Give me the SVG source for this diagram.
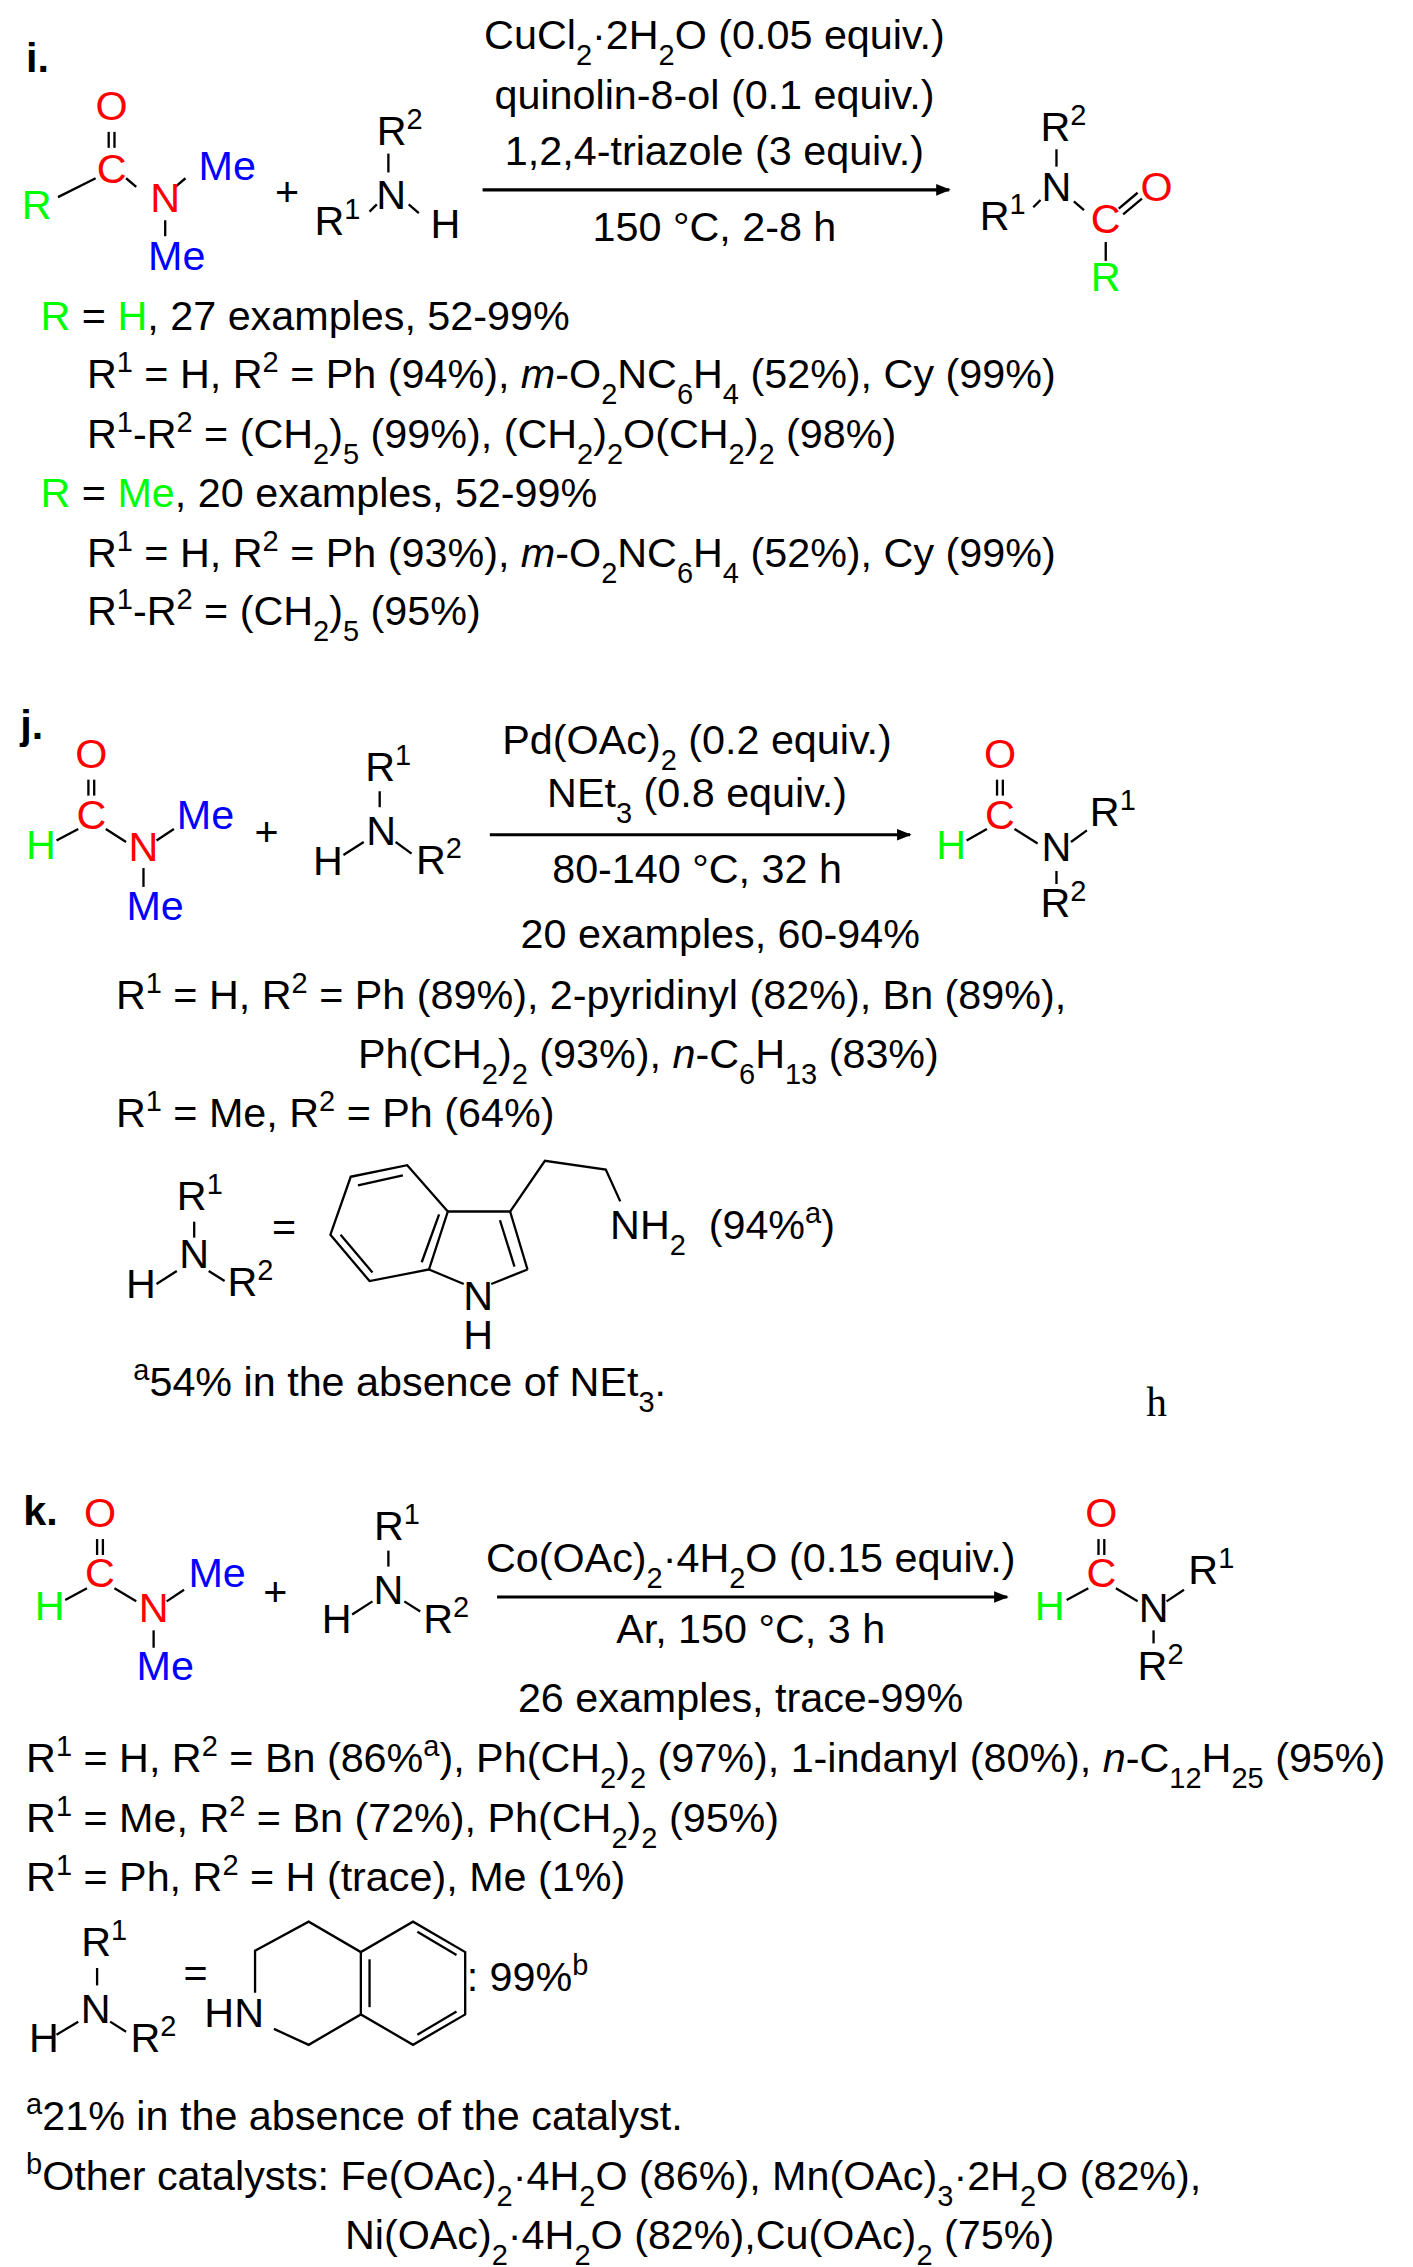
<svg xmlns="http://www.w3.org/2000/svg" width="1413" height="2267" viewBox="0 0 1413 2267">
<style>
text{font-family:"Liberation Sans",Arial,sans-serif;font-size:28.5px;fill:#000}
.c{text-anchor:middle}
.r{fill:#f00}.g{fill:#0f0}.b{fill:#00f}
.bd{font-weight:bold}
.sb{font-size:20px;baseline-shift:sub}
.sp{font-size:20px;baseline-shift:super}
.i{font-style:italic}
line,polyline,path{stroke:#000;stroke-width:1.6;fill:none}
.ar{stroke-width:2.2}
</style>
<defs><marker id="ah" markerWidth="10" markerHeight="8" refX="9" refY="4" orient="auto" markerUnits="userSpaceOnUse"><path d="M0,0 L10,4 L0,8 z" style="fill:#000;stroke:none"/></marker></defs>
<rect width="1413" height="2267" fill="#fff"/>
<g transform="scale(1.4492)">
<g id="connectors">
<line x1="75" y1="91" x2="75" y2="102"/><line x1="79" y1="91" x2="79" y2="102"/>
<line x1="66" y1="123" x2="40" y2="136"/><line x1="87" y1="123" x2="94" y2="129"/><line x1="121" y1="129" x2="128" y2="123"/><line x1="114" y1="152" x2="114" y2="163"/>
<line x1="268" y1="106" x2="268" y2="119"/><line x1="255" y1="146" x2="260" y2="141"/><line x1="282" y1="141" x2="289" y2="147"/>
<line class="ar" x1="333" y1="131" x2="655" y2="131" marker-end="url(#ah)"/>
<line x1="729" y1="103" x2="729" y2="115"/><line x1="713" y1="143" x2="718" y2="138"/><line x1="741" y1="139" x2="748" y2="145"/><line x1="772" y1="144" x2="785" y2="133"/><line x1="775" y1="148" x2="788" y2="137"/><line x1="763" y1="167" x2="763" y2="180"/>
<line x1="61" y1="538" x2="61" y2="549"/><line x1="65" y1="538" x2="65" y2="549"/>
<line x1="39" y1="580" x2="54" y2="572"/><line x1="73" y1="572" x2="87" y2="581"/><line x1="108" y1="580" x2="120" y2="572"/><line x1="99" y1="599" x2="99" y2="612"/>
<line x1="262" y1="546" x2="262" y2="557"/><line x1="237" y1="590" x2="251" y2="581"/><line x1="273" y1="581" x2="284" y2="589"/>
<line class="ar" x1="338" y1="576" x2="628" y2="576" marker-end="url(#ah)"/>
<line x1="688" y1="538" x2="688" y2="549"/><line x1="692" y1="538" x2="692" y2="549"/>
<line x1="667" y1="580" x2="681" y2="572"/><line x1="700" y1="572" x2="716" y2="582"/><line x1="739" y1="581" x2="750" y2="573"/><line x1="729" y1="601" x2="729" y2="610"/>
<line x1="134" y1="843" x2="134" y2="854"/><line x1="108" y1="886" x2="122" y2="877"/><line x1="144" y1="877" x2="155" y2="884"/>
<polygon points="242,812 281,804 309,836 296,876 255,884 228,852" style="fill:none;stroke:#000;stroke-width:1.6"/>
<line x1="247" y1="818" x2="278" y2="811"/><line x1="303" y1="838" x2="291" y2="871"/><line x1="235" y1="852" x2="257" y2="878"/>
<line x1="309" y1="836" x2="352" y2="836"/><line x1="352" y1="836" x2="364" y2="876"/><line x1="345" y1="842" x2="355" y2="874"/>
<line x1="364" y1="876" x2="339" y2="886"/><line x1="296" y1="876" x2="320" y2="886"/>
<polyline points="352,836 376,801 418,807 428,829"/>
<line x1="67" y1="1062" x2="67" y2="1073"/><line x1="71" y1="1062" x2="71" y2="1073"/>
<line x1="45" y1="1104" x2="60" y2="1096"/><line x1="79" y1="1096" x2="94" y2="1105"/><line x1="115" y1="1105" x2="127" y2="1097"/><line x1="106" y1="1125" x2="106" y2="1137"/>
<line x1="268" y1="1070" x2="268" y2="1081"/><line x1="243" y1="1114" x2="257" y2="1105"/><line x1="279" y1="1105" x2="290" y2="1112"/>
<line class="ar" x1="343" y1="1102" x2="695" y2="1102" marker-end="url(#ah)"/>
<line x1="758" y1="1062" x2="758" y2="1073"/><line x1="762" y1="1062" x2="762" y2="1073"/>
<line x1="736" y1="1104" x2="751" y2="1096"/><line x1="770" y1="1096" x2="785" y2="1105"/><line x1="805" y1="1105" x2="817" y2="1097"/><line x1="796" y1="1125" x2="796" y2="1134"/>
<line x1="67" y1="1358" x2="67" y2="1370"/><line x1="39" y1="1404" x2="54" y2="1395"/><line x1="76" y1="1395" x2="87" y2="1402"/>
<polyline points="176,1375 176,1346 213,1326 249,1347 285,1326 321,1347 321,1390 285,1411 249,1390 213,1411 189,1400"/>
<line x1="249" y1="1347" x2="249" y2="1390"/><line x1="255" y1="1352" x2="255" y2="1385"/><line x1="288" y1="1333" x2="315" y2="1349"/><line x1="315" y1="1388" x2="288" y2="1404"/>
</g>

<g id="section-i">
<text x="18" y="50" class="bd">i.</text>
<text x="77" y="83" class="c r">O</text><text x="77" y="126" class="c r">C</text><text x="15" y="151" class="g">R</text><text x="114" y="146" class="c r">N</text><text x="137" y="124" class="b">Me</text><text x="122" y="186" class="c b">Me</text>
<text x="198" y="142" class="c">+</text>
<text x="260" y="100">R<tspan class="sp">2</tspan></text><text x="270" y="144" class="c">N</text><text x="217" y="162">R<tspan class="sp">1</tspan></text><text x="297" y="164">H</text>
<text x="493" y="34" class="c">CuCl<tspan class="sb">2</tspan><tspan>·2H</tspan><tspan class="sb">2</tspan><tspan>O (0.05 equiv.)</tspan></text>
<text x="493" y="75" class="c">quinolin-8-ol (0.1 equiv.)</text>
<text x="493" y="114" class="c">1,2,4-triazole (3 equiv.)</text>
<text x="493" y="166" class="c">150 °C, 2-8 h</text>
<text x="718" y="97">R<tspan class="sp">2</tspan></text><text x="729" y="139" class="c">N</text><text x="676" y="159">R<tspan class="sp">1</tspan></text><text x="763" y="161" class="c r">C</text><text x="798" y="139" class="c r">O</text><text x="763" y="201" class="c g">R</text>
<text x="28" y="228"><tspan class="g">R</tspan> = <tspan class="g">H</tspan>, 27 examples, 52-99%</text>
<text x="60" y="268">R<tspan class="sp">1</tspan><tspan> = H, R</tspan><tspan class="sp">2</tspan><tspan> = Ph (94%), </tspan><tspan class="i">m</tspan><tspan>-O</tspan><tspan class="sb">2</tspan><tspan>NC</tspan><tspan class="sb">6</tspan><tspan>H</tspan><tspan class="sb">4</tspan><tspan> (52%), Cy (99%)</tspan></text>
<text x="60" y="309">R<tspan class="sp">1</tspan><tspan>-R</tspan><tspan class="sp">2</tspan><tspan> = (CH</tspan><tspan class="sb">2</tspan><tspan>)</tspan><tspan class="sb">5</tspan><tspan> (99%), (CH</tspan><tspan class="sb">2</tspan><tspan>)</tspan><tspan class="sb">2</tspan><tspan>O(CH</tspan><tspan class="sb">2</tspan><tspan>)</tspan><tspan class="sb">2</tspan><tspan> (98%)</tspan></text>
<text x="28" y="350"><tspan class="g">R</tspan> = <tspan class="g">Me</tspan>, 20 examples, 52-99%</text>
<text x="60" y="391">R<tspan class="sp">1</tspan><tspan> = H, R</tspan><tspan class="sp">2</tspan><tspan> = Ph (93%), </tspan><tspan class="i">m</tspan><tspan>-O</tspan><tspan class="sb">2</tspan><tspan>NC</tspan><tspan class="sb">6</tspan><tspan>H</tspan><tspan class="sb">4</tspan><tspan> (52%), Cy (99%)</tspan></text>
<text x="60" y="431">R<tspan class="sp">1</tspan><tspan>-R</tspan><tspan class="sp">2</tspan><tspan> = (CH</tspan><tspan class="sb">2</tspan><tspan>)</tspan><tspan class="sb">5</tspan><tspan> (95%)</tspan></text>
</g>

<g id="section-j">
<text x="14" y="510" class="bd">j.</text>
<text x="63" y="530" class="c r">O</text><text x="63" y="572" class="c r">C</text><text x="18" y="593" class="g">H</text><text x="99" y="594" class="c r">N</text><text x="122" y="572" class="b">Me</text><text x="107" y="635" class="c b">Me</text>
<text x="184" y="584" class="c">+</text>
<text x="252" y="539">R<tspan class="sp">1</tspan></text><text x="263" y="583" class="c">N</text><text x="216" y="604">H</text><text x="287" y="603">R<tspan class="sp">2</tspan></text>
<text x="481" y="520" class="c">Pd(OAc)<tspan class="sb">2</tspan><tspan> (0.2 equiv.)</tspan></text>
<text x="481" y="557" class="c">NEt<tspan class="sb">3</tspan><tspan> (0.8 equiv.)</tspan></text>
<text x="481" y="609" class="c">80-140 °C, 32 h</text>
<text x="497" y="654" class="c">20 examples, 60-94%</text>
<text x="690" y="530" class="c r">O</text><text x="690" y="572" class="c r">C</text><text x="646" y="593" class="g">H</text><text x="729" y="594" class="c">N</text><text x="752" y="570">R<tspan class="sp">1</tspan></text><text x="718" y="633">R<tspan class="sp">2</tspan></text>
<text x="80" y="696">R<tspan class="sp">1</tspan><tspan> = H, R</tspan><tspan class="sp">2</tspan><tspan> = Ph (89%), 2-pyridinyl (82%), Bn (89%),</tspan></text>
<text x="247" y="737">Ph(CH<tspan class="sb">2</tspan><tspan>)</tspan><tspan class="sb">2</tspan><tspan> (93%), </tspan><tspan class="i">n</tspan><tspan>-C</tspan><tspan class="sb">6</tspan><tspan>H</tspan><tspan class="sb">13</tspan><tspan> (83%)</tspan></text>
<text x="80" y="778">R<tspan class="sp">1</tspan><tspan> = Me, R</tspan><tspan class="sp">2</tspan><tspan> = Ph (64%)</tspan></text>
<text x="122" y="835">R<tspan class="sp">1</tspan></text><text x="134" y="875" class="c">N</text><text x="87" y="896">H</text><text x="157" y="894">R<tspan class="sp">2</tspan></text>
<text x="196" y="856" class="c">=</text>
<text x="330" y="904" class="c">N</text><text x="330" y="931" class="c">H</text>
<text x="421" y="855">NH<tspan class="sb">2</tspan></text><text x="489" y="855">(94%<tspan class="sp">a</tspan><tspan>)</tspan></text>
<text x="92" y="963"><tspan class="sp">a</tspan><tspan>54% in the absence of NEt</tspan><tspan class="sb">3</tspan><tspan>.</tspan></text>
<text x="791" y="977" style="font-family:'Liberation Serif',serif">h</text>
</g>

<g id="section-k">
<text x="16" y="1052" class="bd">k.</text>
<text x="69" y="1054" class="c r">O</text><text x="69" y="1095" class="c r">C</text><text x="24" y="1118" class="g">H</text><text x="106" y="1119" class="c r">N</text><text x="130" y="1095" class="b">Me</text><text x="114" y="1159" class="c b">Me</text>
<text x="190" y="1108" class="c">+</text>
<text x="258" y="1063">R<tspan class="sp">1</tspan></text><text x="268" y="1107" class="c">N</text><text x="222" y="1127">H</text><text x="292" y="1127">R<tspan class="sp">2</tspan></text>
<text x="518" y="1085" class="c">Co(OAc)<tspan class="sb">2</tspan><tspan>·4H</tspan><tspan class="sb">2</tspan><tspan>O (0.15 equiv.)</tspan></text>
<text x="518" y="1134" class="c">Ar, 150 °C, 3 h</text>
<text x="511" y="1181" class="c">26 examples, trace-99%</text>
<text x="760" y="1054" class="c r">O</text><text x="760" y="1095" class="c r">C</text><text x="714" y="1118" class="g">H</text><text x="796" y="1119" class="c">N</text><text x="820" y="1093">R<tspan class="sp">1</tspan></text><text x="785" y="1159">R<tspan class="sp">2</tspan></text>
<text x="18" y="1223">R<tspan class="sp">1</tspan><tspan> = H, R</tspan><tspan class="sp">2</tspan><tspan> = Bn (86%</tspan><tspan class="sp">a</tspan><tspan>), Ph(CH</tspan><tspan class="sb">2</tspan><tspan>)</tspan><tspan class="sb">2</tspan><tspan> (97%), 1-indanyl (80%), </tspan><tspan class="i">n</tspan><tspan>-C</tspan><tspan class="sb">12</tspan><tspan>H</tspan><tspan class="sb">25</tspan><tspan> (95%)</tspan></text>
<text x="18" y="1264">R<tspan class="sp">1</tspan><tspan> = Me, R</tspan><tspan class="sp">2</tspan><tspan> = Bn (72%), Ph(CH</tspan><tspan class="sb">2</tspan><tspan>)</tspan><tspan class="sb">2</tspan><tspan> (95%)</tspan></text>
<text x="18" y="1305">R<tspan class="sp">1</tspan><tspan> = Ph, R</tspan><tspan class="sp">2</tspan><tspan> = H (trace), Me (1%)</tspan></text>
<text x="56" y="1350">R<tspan class="sp">1</tspan></text><text x="66" y="1396" class="c">N</text><text x="20" y="1416">H</text><text x="90" y="1416">R<tspan class="sp">2</tspan></text>
<text x="135" y="1371" class="c">=</text>
<text x="141" y="1399">HN</text>
<text x="322" y="1374">: 99%<tspan class="sp">b</tspan></text>
<text x="18" y="1470"><tspan class="sp">a</tspan><tspan>21% in the absence of the catalyst.</tspan></text>
<text x="18" y="1511"><tspan class="sp">b</tspan><tspan>Other catalysts: Fe(OAc)</tspan><tspan class="sb">2</tspan><tspan>·4H</tspan><tspan class="sb">2</tspan><tspan>O (86%), Mn(OAc)</tspan><tspan class="sb">3</tspan><tspan>·2H</tspan><tspan class="sb">2</tspan><tspan>O (82%),</tspan></text>
<text x="238" y="1552">Ni(OAc)<tspan class="sb">2</tspan><tspan>·4H</tspan><tspan class="sb">2</tspan><tspan>O (82%),Cu(OAc)</tspan><tspan class="sb">2</tspan><tspan> (75%)</tspan></text>
</g>
</g>
</svg>
